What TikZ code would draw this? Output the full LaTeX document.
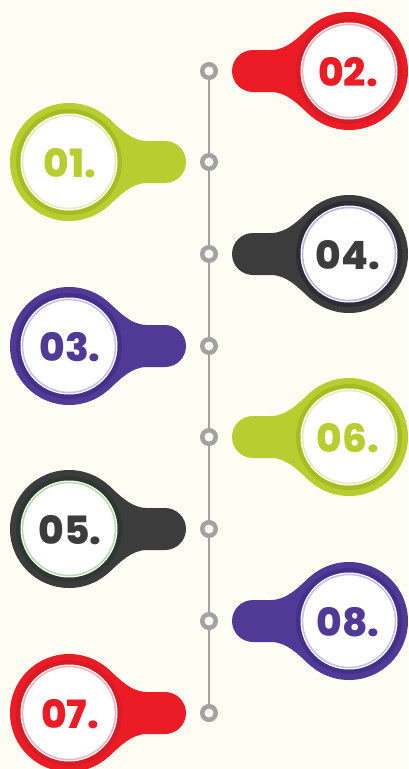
\documentclass[tikz,border=0pt]{standalone}
\usepackage{fontspec}
\setmainfont{Poppins}[BoldFont={* ExtraBold}]
\usepackage{tikz}
\definecolor{tbg}{HTML}{FDFDF4}
\definecolor{tgray}{HTML}{A2A2A2}
\definecolor{tred}{HTML}{EC1C26}
\definecolor{treddark}{HTML}{D81B25}
\definecolor{tredlight}{HTML}{E8B9C0}
\definecolor{tlime}{HTML}{B8CD30}
\definecolor{tlimedark}{HTML}{A6BD22}
\definecolor{tlimelight}{HTML}{E4ECBE}
\definecolor{tpurple}{HTML}{503A96}
\definecolor{tpurpledark}{HTML}{43308A}
\definecolor{tpurplelight}{HTML}{C9C1E2}
\definecolor{tcoal}{HTML}{3C3C3C}
\definecolor{tcoaldark}{HTML}{2E2D36}
\definecolor{tcoallav}{HTML}{C2B3DE}
\definecolor{tcoalgreen}{HTML}{2D3830}
\definecolor{tcoalmint}{HTML}{BADBB0}
\tikzset{
  dotmark/.style={circle, draw=tgray, fill=tbg, line width=4.5pt,
                  minimum size=13.5pt, inner sep=0pt},
  spine/.style={tgray, line width=2.5pt},
  numlabel/.style={font=\fontsize{39}{39}\selectfont\bfseries, inner sep=0pt},
  pics/numtab/.style n args={4}{code={
    \fill[#1] (-140,0) circle (59);
    \fill[#1] (-100.5,-43.8) .. controls (-89.4,-33.8) and (-78,-21) .. (-62,-21)
      -- (-44,-21) arc (-90:90:21) -- (-62,21)
      .. controls (-78,21) and (-89.4,33.8) .. (-100.5,43.8) -- (-140,0) -- cycle;
    \fill[#2] (-140,0) circle (53);
    \fill[white] (-140,0) circle (48.5);
    \draw[#3, line width=1.6pt] (-140,0) circle (46.5);
    \node[numlabel, text=#1] (-lbl) at (-139,1) {#4};
  }},
}
\begin{document}
\begin{tikzpicture}[x=1pt, y=-1pt]

  %% canvas
  \useasboundingbox (0,0) rectangle (408,769);
  \fill[tbg] (0,0) rectangle (408,769);

  %% timeline dots
  \node[dotmark] (dot1) at (209,71) {};
  \node[dotmark] (dot2) at (209,162) {};
  \node[dotmark] (dot3) at (209,254) {};
  \node[dotmark] (dot4) at (209,346) {};
  \node[dotmark] (dot5) at (209,437) {};
  \node[dotmark] (dot6) at (209,529) {};
  \node[dotmark] (dot7) at (209,621) {};
  \node[dotmark] (dot8) at (209,713) {};
  \draw[spine] (dot1) -- (dot2) -- (dot3) -- (dot4) -- (dot5) -- (dot6) -- (dot7) -- (dot8);

  %% right side tabs (mirrored)
  \pic[xscale=-1] (t02) at (209,71)  {numtab={tred}{treddark}{tredlight}{02.}};
  \pic[xscale=-1] (t04) at (209,254) {numtab={tcoal}{tcoaldark}{tcoallav}{04.}};
  \pic[xscale=-1] (t06) at (209,437) {numtab={tlime}{tlimedark}{tlimelight}{06.}};
  \pic[xscale=-1] (t08) at (209,621) {numtab={tpurple}{tpurpledark}{tpurplelight}{08.}};

  %% left side tabs
  \pic (t01) at (209,162) {numtab={tlime}{tlimedark}{tlimelight}{01.}};
  \pic (t03) at (209,346) {numtab={tpurple}{tpurpledark}{tpurplelight}{03.}};
  \pic (t05) at (209,529) {numtab={tcoal}{tcoalgreen}{tcoalmint}{05.}};
  \pic (t07) at (209,713) {numtab={tred}{treddark}{tredlight}{07.}};

\end{tikzpicture}
\end{document}
